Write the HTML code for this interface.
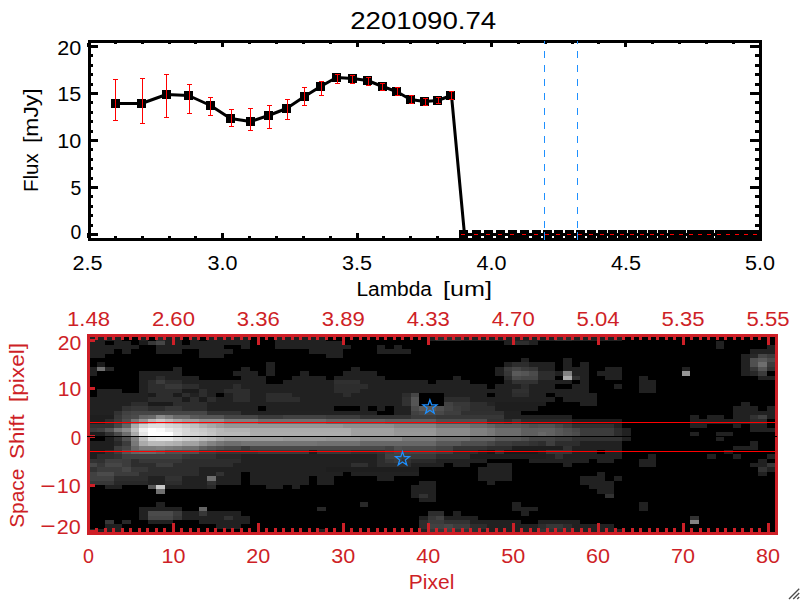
<!DOCTYPE html>
<html lang="en"><head><meta charset="utf-8"><title>2201090.74</title>
<style>html,body{margin:0;padding:0;background:#fff;overflow:hidden}svg{display:block}text{font-family:"Liberation Sans", Arial, sans-serif}</style>
</head><body>
<svg width="800" height="600" viewBox="0 0 800 600">
<rect width="800" height="600" fill="#fff"/>
<g shape-rendering="crispEdges">
<rect x="544" y="40" width="1" height="4" fill="#1e90ff"/>
<rect x="544" y="51" width="1" height="7" fill="#1e90ff"/>
<rect x="544" y="65" width="1" height="7" fill="#1e90ff"/>
<rect x="544" y="79" width="1" height="7" fill="#1e90ff"/>
<rect x="544" y="93" width="1" height="7" fill="#1e90ff"/>
<rect x="544" y="108" width="1" height="7" fill="#1e90ff"/>
<rect x="544" y="122" width="1" height="7" fill="#1e90ff"/>
<rect x="544" y="136" width="1" height="7" fill="#1e90ff"/>
<rect x="544" y="150" width="1" height="7" fill="#1e90ff"/>
<rect x="544" y="164" width="1" height="7" fill="#1e90ff"/>
<rect x="544" y="178" width="1" height="7" fill="#1e90ff"/>
<rect x="544" y="193" width="1" height="7" fill="#1e90ff"/>
<rect x="544" y="207" width="1" height="7" fill="#1e90ff"/>
<rect x="544" y="221" width="1" height="7" fill="#1e90ff"/>
<rect x="544" y="235" width="1" height="6" fill="#1e90ff"/>
<rect x="577" y="40" width="1" height="4" fill="#1e90ff"/>
<rect x="577" y="51" width="1" height="7" fill="#1e90ff"/>
<rect x="577" y="65" width="1" height="7" fill="#1e90ff"/>
<rect x="577" y="79" width="1" height="7" fill="#1e90ff"/>
<rect x="577" y="93" width="1" height="7" fill="#1e90ff"/>
<rect x="577" y="108" width="1" height="7" fill="#1e90ff"/>
<rect x="577" y="122" width="1" height="7" fill="#1e90ff"/>
<rect x="577" y="136" width="1" height="7" fill="#1e90ff"/>
<rect x="577" y="150" width="1" height="7" fill="#1e90ff"/>
<rect x="577" y="164" width="1" height="7" fill="#1e90ff"/>
<rect x="577" y="178" width="1" height="7" fill="#1e90ff"/>
<rect x="577" y="193" width="1" height="7" fill="#1e90ff"/>
<rect x="577" y="207" width="1" height="7" fill="#1e90ff"/>
<rect x="577" y="221" width="1" height="7" fill="#1e90ff"/>
<rect x="577" y="235" width="1" height="6" fill="#1e90ff"/>
<rect x="88" y="40" width="674" height="3" fill="#000"/>
<rect x="88" y="238" width="674" height="3" fill="#000"/>
<rect x="88" y="40" width="3" height="201" fill="#000"/>
<rect x="759" y="40" width="3" height="201" fill="#000"/>
<rect x="87" y="43" width="3" height="4" fill="#000"/>
<rect x="87" y="233" width="3" height="5" fill="#000"/>
<rect x="114" y="43" width="3" height="1" fill="#000"/>
<rect x="114" y="236" width="3" height="2" fill="#000"/>
<rect x="141" y="43" width="3" height="1" fill="#000"/>
<rect x="141" y="236" width="3" height="2" fill="#000"/>
<rect x="168" y="43" width="3" height="1" fill="#000"/>
<rect x="168" y="236" width="3" height="2" fill="#000"/>
<rect x="194" y="43" width="3" height="1" fill="#000"/>
<rect x="194" y="236" width="3" height="2" fill="#000"/>
<rect x="221" y="43" width="3" height="4" fill="#000"/>
<rect x="221" y="233" width="3" height="5" fill="#000"/>
<rect x="248" y="43" width="3" height="1" fill="#000"/>
<rect x="248" y="236" width="3" height="2" fill="#000"/>
<rect x="275" y="43" width="3" height="1" fill="#000"/>
<rect x="275" y="236" width="3" height="2" fill="#000"/>
<rect x="302" y="43" width="3" height="1" fill="#000"/>
<rect x="302" y="236" width="3" height="2" fill="#000"/>
<rect x="329" y="43" width="3" height="1" fill="#000"/>
<rect x="329" y="236" width="3" height="2" fill="#000"/>
<rect x="356" y="43" width="3" height="4" fill="#000"/>
<rect x="356" y="233" width="3" height="5" fill="#000"/>
<rect x="382" y="43" width="3" height="1" fill="#000"/>
<rect x="382" y="236" width="3" height="2" fill="#000"/>
<rect x="409" y="43" width="3" height="1" fill="#000"/>
<rect x="409" y="236" width="3" height="2" fill="#000"/>
<rect x="436" y="43" width="3" height="1" fill="#000"/>
<rect x="436" y="236" width="3" height="2" fill="#000"/>
<rect x="463" y="43" width="3" height="1" fill="#000"/>
<rect x="463" y="236" width="3" height="2" fill="#000"/>
<rect x="490" y="43" width="3" height="4" fill="#000"/>
<rect x="490" y="233" width="3" height="5" fill="#000"/>
<rect x="517" y="43" width="3" height="1" fill="#000"/>
<rect x="517" y="236" width="3" height="2" fill="#000"/>
<rect x="544" y="43" width="3" height="1" fill="#000"/>
<rect x="544" y="236" width="3" height="2" fill="#000"/>
<rect x="571" y="43" width="3" height="1" fill="#000"/>
<rect x="571" y="236" width="3" height="2" fill="#000"/>
<rect x="597" y="43" width="3" height="1" fill="#000"/>
<rect x="597" y="236" width="3" height="2" fill="#000"/>
<rect x="624" y="43" width="3" height="4" fill="#000"/>
<rect x="624" y="233" width="3" height="5" fill="#000"/>
<rect x="651" y="43" width="3" height="1" fill="#000"/>
<rect x="651" y="236" width="3" height="2" fill="#000"/>
<rect x="678" y="43" width="3" height="1" fill="#000"/>
<rect x="678" y="236" width="3" height="2" fill="#000"/>
<rect x="705" y="43" width="3" height="1" fill="#000"/>
<rect x="705" y="236" width="3" height="2" fill="#000"/>
<rect x="732" y="43" width="3" height="1" fill="#000"/>
<rect x="732" y="236" width="3" height="2" fill="#000"/>
<rect x="759" y="43" width="3" height="4" fill="#000"/>
<rect x="759" y="233" width="3" height="5" fill="#000"/>
<rect x="91" y="233" width="7" height="3" fill="#000"/>
<rect x="750" y="233" width="9" height="3" fill="#000"/>
<rect x="91" y="224" width="2" height="3" fill="#000"/>
<rect x="755" y="224" width="4" height="3" fill="#000"/>
<rect x="91" y="214" width="2" height="3" fill="#000"/>
<rect x="755" y="214" width="4" height="3" fill="#000"/>
<rect x="91" y="205" width="2" height="3" fill="#000"/>
<rect x="755" y="205" width="4" height="3" fill="#000"/>
<rect x="91" y="195" width="2" height="3" fill="#000"/>
<rect x="755" y="195" width="4" height="3" fill="#000"/>
<rect x="91" y="186" width="7" height="3" fill="#000"/>
<rect x="750" y="186" width="9" height="3" fill="#000"/>
<rect x="91" y="177" width="2" height="3" fill="#000"/>
<rect x="755" y="177" width="4" height="3" fill="#000"/>
<rect x="91" y="167" width="2" height="3" fill="#000"/>
<rect x="755" y="167" width="4" height="3" fill="#000"/>
<rect x="91" y="158" width="2" height="3" fill="#000"/>
<rect x="755" y="158" width="4" height="3" fill="#000"/>
<rect x="91" y="148" width="2" height="3" fill="#000"/>
<rect x="755" y="148" width="4" height="3" fill="#000"/>
<rect x="91" y="139" width="7" height="3" fill="#000"/>
<rect x="750" y="139" width="9" height="3" fill="#000"/>
<rect x="91" y="130" width="2" height="3" fill="#000"/>
<rect x="755" y="130" width="4" height="3" fill="#000"/>
<rect x="91" y="120" width="2" height="3" fill="#000"/>
<rect x="755" y="120" width="4" height="3" fill="#000"/>
<rect x="91" y="111" width="2" height="3" fill="#000"/>
<rect x="755" y="111" width="4" height="3" fill="#000"/>
<rect x="91" y="101" width="2" height="3" fill="#000"/>
<rect x="755" y="101" width="4" height="3" fill="#000"/>
<rect x="91" y="92" width="7" height="3" fill="#000"/>
<rect x="750" y="92" width="9" height="3" fill="#000"/>
<rect x="91" y="83" width="2" height="3" fill="#000"/>
<rect x="755" y="83" width="4" height="3" fill="#000"/>
<rect x="91" y="73" width="2" height="3" fill="#000"/>
<rect x="755" y="73" width="4" height="3" fill="#000"/>
<rect x="91" y="64" width="2" height="3" fill="#000"/>
<rect x="755" y="64" width="4" height="3" fill="#000"/>
<rect x="91" y="54" width="2" height="3" fill="#000"/>
<rect x="755" y="54" width="4" height="3" fill="#000"/>
<rect x="91" y="45" width="7" height="3" fill="#000"/>
<rect x="750" y="45" width="9" height="3" fill="#000"/>
</g>
<polyline fill="none" stroke="#000" stroke-width="3" stroke-linejoin="round" points="115.5,103.5 141.5,103.5 166.5,94.5 188.5,95.5 210.5,105.5 230.5,118.5 250.5,121.5 268.5,115.5 286.5,108.5 304.5,96.5 320.5,86.5 336.5,77.5 352.5,78.5 367.5,80.5 382.5,86.5 396.5,91.5 410.5,99.5 424.5,101.5 437.5,100.5 451.5,95.5 464.5,234.5 476.5,234.5 488.5,234.5 500.5,234.5 512.5,234.5 524.5,234.5 536.5,234.5 547.5,234.5 558.5,234.5 569.5,234.5 580.5,234.5 591.5,234.5 602.5,234.5 612.5,234.5 622.5,234.5 632.5,234.5 642.5,234.5 652.5,234.5 662.5,234.5 672.5,234.5 681.5,234.5 691.5,234.5 700.5,234.5 709.5,234.5 719.5,234.5 728.5,234.5 737.5,234.5 746.5,234.5 755.5,234.5"/>
<g shape-rendering="crispEdges">
<rect x="111" y="99" width="9" height="9" fill="#000"/>
<rect x="137" y="99" width="9" height="9" fill="#000"/>
<rect x="162" y="90" width="9" height="9" fill="#000"/>
<rect x="184" y="91" width="9" height="9" fill="#000"/>
<rect x="206" y="101" width="9" height="9" fill="#000"/>
<rect x="226" y="114" width="9" height="9" fill="#000"/>
<rect x="246" y="117" width="9" height="9" fill="#000"/>
<rect x="264" y="111" width="9" height="9" fill="#000"/>
<rect x="282" y="104" width="9" height="9" fill="#000"/>
<rect x="300" y="92" width="9" height="9" fill="#000"/>
<rect x="316" y="82" width="9" height="9" fill="#000"/>
<rect x="332" y="73" width="9" height="9" fill="#000"/>
<rect x="348" y="74" width="9" height="9" fill="#000"/>
<rect x="363" y="76" width="9" height="9" fill="#000"/>
<rect x="378" y="82" width="9" height="9" fill="#000"/>
<rect x="392" y="87" width="9" height="9" fill="#000"/>
<rect x="406" y="95" width="9" height="9" fill="#000"/>
<rect x="420" y="97" width="9" height="9" fill="#000"/>
<rect x="433" y="96" width="9" height="9" fill="#000"/>
<rect x="446" y="91" width="9" height="9" fill="#000"/>
<rect x="459" y="230" width="9" height="9" fill="#000"/>
<rect x="472" y="230" width="9" height="9" fill="#000"/>
<rect x="484" y="230" width="9" height="9" fill="#000"/>
<rect x="496" y="230" width="9" height="9" fill="#000"/>
<rect x="508" y="230" width="9" height="9" fill="#000"/>
<rect x="520" y="230" width="9" height="9" fill="#000"/>
<rect x="532" y="230" width="9" height="9" fill="#000"/>
<rect x="543" y="230" width="9" height="9" fill="#000"/>
<rect x="554" y="230" width="9" height="9" fill="#000"/>
<rect x="565" y="230" width="9" height="9" fill="#000"/>
<rect x="576" y="230" width="9" height="9" fill="#000"/>
<rect x="587" y="230" width="9" height="9" fill="#000"/>
<rect x="598" y="230" width="9" height="9" fill="#000"/>
<rect x="608" y="230" width="9" height="9" fill="#000"/>
<rect x="618" y="230" width="9" height="9" fill="#000"/>
<rect x="628" y="230" width="9" height="9" fill="#000"/>
<rect x="638" y="230" width="9" height="9" fill="#000"/>
<rect x="648" y="230" width="9" height="9" fill="#000"/>
<rect x="658" y="230" width="9" height="9" fill="#000"/>
<rect x="668" y="230" width="9" height="9" fill="#000"/>
<rect x="677" y="230" width="9" height="9" fill="#000"/>
<rect x="687" y="230" width="9" height="9" fill="#000"/>
<rect x="696" y="230" width="9" height="9" fill="#000"/>
<rect x="705" y="230" width="9" height="9" fill="#000"/>
<rect x="715" y="230" width="9" height="9" fill="#000"/>
<rect x="724" y="230" width="9" height="9" fill="#000"/>
<rect x="733" y="230" width="9" height="9" fill="#000"/>
<rect x="742" y="230" width="9" height="9" fill="#000"/>
<rect x="751" y="230" width="9" height="9" fill="#000"/>
<rect x="115" y="79" width="1" height="42" fill="#f00"/>
<rect x="113" y="79" width="5" height="1" fill="#f00"/>
<rect x="113" y="120" width="5" height="1" fill="#f00"/>
<rect x="142" y="78" width="1" height="46" fill="#f00"/>
<rect x="140" y="78" width="5" height="1" fill="#f00"/>
<rect x="140" y="123" width="5" height="1" fill="#f00"/>
<rect x="166" y="74" width="1" height="44" fill="#f00"/>
<rect x="164" y="74" width="5" height="1" fill="#f00"/>
<rect x="164" y="117" width="5" height="1" fill="#f00"/>
<rect x="189" y="84" width="1" height="30" fill="#f00"/>
<rect x="187" y="84" width="5" height="1" fill="#f00"/>
<rect x="187" y="113" width="5" height="1" fill="#f00"/>
<rect x="210" y="97" width="1" height="19" fill="#f00"/>
<rect x="208" y="97" width="5" height="1" fill="#f00"/>
<rect x="208" y="115" width="5" height="1" fill="#f00"/>
<rect x="231" y="109" width="1" height="18" fill="#f00"/>
<rect x="229" y="109" width="5" height="1" fill="#f00"/>
<rect x="229" y="126" width="5" height="1" fill="#f00"/>
<rect x="250" y="108" width="1" height="23" fill="#f00"/>
<rect x="248" y="108" width="5" height="1" fill="#f00"/>
<rect x="248" y="130" width="5" height="1" fill="#f00"/>
<rect x="269" y="105" width="1" height="24" fill="#f00"/>
<rect x="267" y="105" width="5" height="1" fill="#f00"/>
<rect x="267" y="128" width="5" height="1" fill="#f00"/>
<rect x="287" y="99" width="1" height="21" fill="#f00"/>
<rect x="285" y="99" width="5" height="1" fill="#f00"/>
<rect x="285" y="119" width="5" height="1" fill="#f00"/>
<rect x="304" y="87" width="1" height="19" fill="#f00"/>
<rect x="302" y="87" width="5" height="1" fill="#f00"/>
<rect x="302" y="105" width="5" height="1" fill="#f00"/>
<rect x="321" y="81" width="1" height="15" fill="#f00"/>
<rect x="319" y="81" width="5" height="1" fill="#f00"/>
<rect x="319" y="95" width="5" height="1" fill="#f00"/>
<rect x="337" y="74" width="1" height="10" fill="#f00"/>
<rect x="335" y="74" width="5" height="1" fill="#f00"/>
<rect x="335" y="83" width="5" height="1" fill="#f00"/>
<rect x="352" y="75" width="1" height="9" fill="#f00"/>
<rect x="350" y="75" width="5" height="1" fill="#f00"/>
<rect x="350" y="83" width="5" height="1" fill="#f00"/>
<rect x="368" y="77" width="1" height="9" fill="#f00"/>
<rect x="366" y="77" width="5" height="1" fill="#f00"/>
<rect x="366" y="85" width="5" height="1" fill="#f00"/>
<rect x="382" y="83" width="1" height="8" fill="#f00"/>
<rect x="380" y="83" width="5" height="1" fill="#f00"/>
<rect x="380" y="90" width="5" height="1" fill="#f00"/>
<rect x="397" y="87" width="1" height="9" fill="#f00"/>
<rect x="395" y="87" width="5" height="1" fill="#f00"/>
<rect x="395" y="95" width="5" height="1" fill="#f00"/>
<rect x="411" y="95" width="1" height="9" fill="#f00"/>
<rect x="409" y="95" width="5" height="1" fill="#f00"/>
<rect x="409" y="103" width="5" height="1" fill="#f00"/>
<rect x="425" y="98" width="1" height="8" fill="#f00"/>
<rect x="423" y="98" width="5" height="1" fill="#f00"/>
<rect x="423" y="105" width="5" height="1" fill="#f00"/>
<rect x="438" y="97" width="1" height="7" fill="#f00"/>
<rect x="436" y="97" width="5" height="1" fill="#f00"/>
<rect x="436" y="103" width="5" height="1" fill="#f00"/>
<rect x="451" y="91" width="1" height="9" fill="#f00"/>
<rect x="449" y="91" width="5" height="1" fill="#f00"/>
<rect x="449" y="99" width="5" height="1" fill="#f00"/>
<rect x="461" y="234" width="4" height="1" fill="#f00"/>
<rect x="474" y="234" width="4" height="1" fill="#f00"/>
<rect x="486" y="234" width="4" height="1" fill="#f00"/>
<rect x="498" y="234" width="4" height="1" fill="#f00"/>
<rect x="510" y="234" width="4" height="1" fill="#f00"/>
<rect x="522" y="234" width="4" height="1" fill="#f00"/>
<rect x="534" y="234" width="4" height="1" fill="#f00"/>
<rect x="545" y="234" width="4" height="1" fill="#f00"/>
<rect x="556" y="234" width="4" height="1" fill="#f00"/>
<rect x="567" y="234" width="4" height="1" fill="#f00"/>
<rect x="578" y="234" width="4" height="1" fill="#f00"/>
<rect x="589" y="234" width="4" height="1" fill="#f00"/>
<rect x="600" y="234" width="4" height="1" fill="#f00"/>
<rect x="610" y="234" width="4" height="1" fill="#f00"/>
<rect x="620" y="234" width="4" height="1" fill="#f00"/>
<rect x="630" y="234" width="4" height="1" fill="#f00"/>
<rect x="640" y="234" width="4" height="1" fill="#f00"/>
<rect x="650" y="234" width="4" height="1" fill="#f00"/>
<rect x="660" y="234" width="4" height="1" fill="#f00"/>
<rect x="670" y="234" width="4" height="1" fill="#f00"/>
<rect x="679" y="234" width="4" height="1" fill="#f00"/>
<rect x="689" y="234" width="4" height="1" fill="#f00"/>
<rect x="698" y="234" width="4" height="1" fill="#f00"/>
<rect x="707" y="234" width="4" height="1" fill="#f00"/>
<rect x="717" y="234" width="4" height="1" fill="#f00"/>
<rect x="726" y="234" width="4" height="1" fill="#f00"/>
<rect x="735" y="234" width="4" height="1" fill="#f00"/>
<rect x="744" y="234" width="4" height="1" fill="#f00"/>
<rect x="753" y="234" width="4" height="1" fill="#f00"/>
<rect x="544" y="232" width="1" height="8" fill="#1e90ff"/>
<rect x="544" y="41" width="1" height="3" fill="#1e90ff"/>
<rect x="577" y="232" width="1" height="8" fill="#1e90ff"/>
<rect x="577" y="41" width="1" height="3" fill="#1e90ff"/>
</g>
<text x="423.2" y="29.2" font-size="23.6" fill="#000" text-anchor="middle" textLength="146" lengthAdjust="spacingAndGlyphs">2201090.74</text>
<text x="87.5" y="269.5" font-size="19.5" fill="#000" text-anchor="middle" textLength="30" lengthAdjust="spacingAndGlyphs">2.5</text>
<text x="222.5" y="269.5" font-size="19.5" fill="#000" text-anchor="middle" textLength="30" lengthAdjust="spacingAndGlyphs">3.0</text>
<text x="357" y="269.5" font-size="19.5" fill="#000" text-anchor="middle" textLength="30" lengthAdjust="spacingAndGlyphs">3.5</text>
<text x="491.5" y="269.5" font-size="19.5" fill="#000" text-anchor="middle" textLength="30" lengthAdjust="spacingAndGlyphs">4.0</text>
<text x="626" y="269.5" font-size="19.5" fill="#000" text-anchor="middle" textLength="30" lengthAdjust="spacingAndGlyphs">4.5</text>
<text x="760" y="269.5" font-size="19.5" fill="#000" text-anchor="middle" textLength="30" lengthAdjust="spacingAndGlyphs">5.0</text>
<text x="81.3" y="55.3" font-size="19.5" fill="#000" text-anchor="end" textLength="24" lengthAdjust="spacingAndGlyphs">20</text>
<text x="81.3" y="100.9" font-size="19.5" fill="#000" text-anchor="end" textLength="24" lengthAdjust="spacingAndGlyphs">15</text>
<text x="81.3" y="148.1" font-size="19.5" fill="#000" text-anchor="end" textLength="24" lengthAdjust="spacingAndGlyphs">10</text>
<text x="81.3" y="195.2" font-size="19.5" fill="#000" text-anchor="end" textLength="10.8" lengthAdjust="spacingAndGlyphs">5</text>
<text x="81.3" y="239.2" font-size="19.5" fill="#000" text-anchor="end" textLength="10.8" lengthAdjust="spacingAndGlyphs">0</text>
<text transform="translate(357.4 295.5)" font-size="19.5" fill="#000"><tspan x="-1" textLength="75.6" lengthAdjust="spacingAndGlyphs">Lambda</tspan> <tspan x="85.6" textLength="48.9" lengthAdjust="spacingAndGlyphs">[um]</tspan></text>
<text transform="translate(38 191) rotate(-90)" font-size="19.5" fill="#000"><tspan x="-1" textLength="38.6" lengthAdjust="spacingAndGlyphs">Flux</tspan> <tspan x="48" textLength="54.6" lengthAdjust="spacingAndGlyphs">[mJy]</tspan></text>
<g shape-rendering="crispEdges">
<rect x="88" y="335" width="688" height="198" fill="#000"/>
<rect x="88" y="336" width="34" height="5" fill="#212121"/>
<rect x="139" y="336" width="9" height="5" fill="#212121"/>
<rect x="156" y="336" width="9" height="5" fill="#2d2d2d"/>
<rect x="165" y="336" width="17" height="5" fill="#212121"/>
<rect x="190" y="336" width="9" height="5" fill="#212121"/>
<rect x="207" y="336" width="43" height="5" fill="#212121"/>
<rect x="275" y="336" width="51" height="5" fill="#212121"/>
<rect x="428" y="336" width="8" height="5" fill="#212121"/>
<rect x="436" y="336" width="25" height="5" fill="#2d2d2d"/>
<rect x="461" y="336" width="94" height="5" fill="#212121"/>
<rect x="555" y="336" width="17" height="5" fill="#2d2d2d"/>
<rect x="572" y="336" width="50" height="5" fill="#212121"/>
<rect x="88" y="341" width="17" height="4" fill="#212121"/>
<rect x="114" y="341" width="17" height="4" fill="#212121"/>
<rect x="139" y="341" width="9" height="4" fill="#1b1b1b"/>
<rect x="148" y="341" width="8" height="4" fill="#373737"/>
<rect x="156" y="341" width="9" height="4" fill="#464646"/>
<rect x="165" y="341" width="17" height="4" fill="#212121"/>
<rect x="190" y="341" width="60" height="4" fill="#212121"/>
<rect x="275" y="341" width="68" height="4" fill="#212121"/>
<rect x="504" y="341" width="8" height="4" fill="#212121"/>
<rect x="512" y="341" width="17" height="4" fill="#2d2d2d"/>
<rect x="529" y="341" width="9" height="4" fill="#212121"/>
<rect x="716" y="341" width="8" height="4" fill="#212121"/>
<rect x="88" y="345" width="51" height="4" fill="#212121"/>
<rect x="156" y="345" width="68" height="4" fill="#212121"/>
<rect x="241" y="345" width="9" height="4" fill="#212121"/>
<rect x="275" y="345" width="76" height="4" fill="#212121"/>
<rect x="377" y="345" width="8" height="4" fill="#212121"/>
<rect x="394" y="345" width="8" height="4" fill="#212121"/>
<rect x="716" y="345" width="8" height="4" fill="#212121"/>
<rect x="767" y="345" width="8" height="4" fill="#212121"/>
<rect x="88" y="349" width="26" height="5" fill="#212121"/>
<rect x="122" y="349" width="9" height="5" fill="#212121"/>
<rect x="156" y="349" width="26" height="5" fill="#212121"/>
<rect x="199" y="349" width="34" height="5" fill="#212121"/>
<rect x="309" y="349" width="34" height="5" fill="#212121"/>
<rect x="377" y="349" width="34" height="5" fill="#212121"/>
<rect x="750" y="349" width="25" height="5" fill="#212121"/>
<rect x="88" y="354" width="17" height="4" fill="#212121"/>
<rect x="199" y="354" width="25" height="4" fill="#212121"/>
<rect x="326" y="354" width="17" height="4" fill="#212121"/>
<rect x="741" y="354" width="9" height="4" fill="#212121"/>
<rect x="750" y="354" width="8" height="4" fill="#282828"/>
<rect x="758" y="354" width="9" height="4" fill="#464646"/>
<rect x="767" y="354" width="8" height="4" fill="#3c3c3c"/>
<rect x="521" y="358" width="8" height="4" fill="#212121"/>
<rect x="563" y="358" width="9" height="4" fill="#212121"/>
<rect x="741" y="358" width="9" height="4" fill="#212121"/>
<rect x="750" y="358" width="8" height="4" fill="#505050"/>
<rect x="758" y="358" width="9" height="4" fill="#5a5a5a"/>
<rect x="767" y="358" width="8" height="4" fill="#4b4b4b"/>
<rect x="97" y="362" width="8" height="5" fill="#1b1b1b"/>
<rect x="266" y="362" width="9" height="5" fill="#212121"/>
<rect x="504" y="362" width="8" height="5" fill="#212121"/>
<rect x="512" y="362" width="17" height="5" fill="#2d2d2d"/>
<rect x="529" y="362" width="26" height="5" fill="#212121"/>
<rect x="563" y="362" width="9" height="5" fill="#212121"/>
<rect x="580" y="362" width="9" height="5" fill="#212121"/>
<rect x="741" y="362" width="9" height="5" fill="#212121"/>
<rect x="750" y="362" width="8" height="5" fill="#505050"/>
<rect x="758" y="362" width="9" height="5" fill="#6e6e6e"/>
<rect x="767" y="362" width="8" height="5" fill="#3c3c3c"/>
<rect x="88" y="367" width="9" height="4" fill="#212121"/>
<rect x="97" y="367" width="8" height="4" fill="#6e6e6e"/>
<rect x="105" y="367" width="9" height="4" fill="#262626"/>
<rect x="173" y="367" width="9" height="4" fill="#212121"/>
<rect x="241" y="367" width="9" height="4" fill="#212121"/>
<rect x="266" y="367" width="9" height="4" fill="#212121"/>
<rect x="351" y="367" width="9" height="4" fill="#212121"/>
<rect x="495" y="367" width="9" height="4" fill="#212121"/>
<rect x="504" y="367" width="8" height="4" fill="#3c3c3c"/>
<rect x="512" y="367" width="9" height="4" fill="#464646"/>
<rect x="521" y="367" width="8" height="4" fill="#3c3c3c"/>
<rect x="529" y="367" width="9" height="4" fill="#373737"/>
<rect x="538" y="367" width="17" height="4" fill="#212121"/>
<rect x="563" y="367" width="26" height="4" fill="#212121"/>
<rect x="605" y="367" width="17" height="4" fill="#212121"/>
<rect x="682" y="367" width="8" height="4" fill="#212121"/>
<rect x="741" y="367" width="9" height="4" fill="#212121"/>
<rect x="750" y="367" width="8" height="4" fill="#373737"/>
<rect x="758" y="367" width="9" height="4" fill="#555555"/>
<rect x="767" y="367" width="8" height="4" fill="#323232"/>
<rect x="88" y="371" width="9" height="5" fill="#212121"/>
<rect x="139" y="371" width="43" height="5" fill="#212121"/>
<rect x="233" y="371" width="25" height="5" fill="#212121"/>
<rect x="266" y="371" width="9" height="5" fill="#212121"/>
<rect x="300" y="371" width="9" height="5" fill="#212121"/>
<rect x="343" y="371" width="34" height="5" fill="#212121"/>
<rect x="495" y="371" width="9" height="5" fill="#212121"/>
<rect x="504" y="371" width="8" height="5" fill="#373737"/>
<rect x="512" y="371" width="9" height="5" fill="#5a5a5a"/>
<rect x="521" y="371" width="8" height="5" fill="#555555"/>
<rect x="529" y="371" width="9" height="5" fill="#4b4b4b"/>
<rect x="538" y="371" width="17" height="5" fill="#2d2d2d"/>
<rect x="555" y="371" width="8" height="5" fill="#212121"/>
<rect x="563" y="371" width="9" height="5" fill="#828282"/>
<rect x="572" y="371" width="17" height="5" fill="#212121"/>
<rect x="597" y="371" width="25" height="5" fill="#212121"/>
<rect x="682" y="371" width="8" height="5" fill="#969696"/>
<rect x="741" y="371" width="9" height="5" fill="#212121"/>
<rect x="750" y="371" width="8" height="5" fill="#282828"/>
<rect x="758" y="371" width="9" height="5" fill="#3c3c3c"/>
<rect x="139" y="376" width="17" height="4" fill="#212121"/>
<rect x="156" y="376" width="9" height="4" fill="#2d2d2d"/>
<rect x="165" y="376" width="34" height="4" fill="#212121"/>
<rect x="241" y="376" width="25" height="4" fill="#212121"/>
<rect x="292" y="376" width="34" height="4" fill="#212121"/>
<rect x="334" y="376" width="51" height="4" fill="#212121"/>
<rect x="453" y="376" width="8" height="4" fill="#212121"/>
<rect x="504" y="376" width="8" height="4" fill="#2d2d2d"/>
<rect x="512" y="376" width="9" height="4" fill="#4b4b4b"/>
<rect x="521" y="376" width="17" height="4" fill="#464646"/>
<rect x="538" y="376" width="17" height="4" fill="#2d2d2d"/>
<rect x="563" y="376" width="9" height="4" fill="#aaaaaa"/>
<rect x="572" y="376" width="8" height="4" fill="#323232"/>
<rect x="580" y="376" width="9" height="4" fill="#212121"/>
<rect x="605" y="376" width="17" height="4" fill="#212121"/>
<rect x="639" y="376" width="9" height="4" fill="#212121"/>
<rect x="758" y="376" width="17" height="4" fill="#212121"/>
<rect x="139" y="380" width="9" height="4" fill="#212121"/>
<rect x="148" y="380" width="8" height="4" fill="#2d2d2d"/>
<rect x="156" y="380" width="9" height="4" fill="#3c3c3c"/>
<rect x="165" y="380" width="17" height="4" fill="#2d2d2d"/>
<rect x="182" y="380" width="84" height="4" fill="#212121"/>
<rect x="283" y="380" width="51" height="4" fill="#212121"/>
<rect x="334" y="380" width="26" height="4" fill="#303030"/>
<rect x="360" y="380" width="68" height="4" fill="#212121"/>
<rect x="436" y="380" width="34" height="4" fill="#212121"/>
<rect x="504" y="380" width="8" height="4" fill="#212121"/>
<rect x="512" y="380" width="26" height="4" fill="#323232"/>
<rect x="538" y="380" width="34" height="4" fill="#212121"/>
<rect x="580" y="380" width="9" height="4" fill="#212121"/>
<rect x="639" y="380" width="17" height="4" fill="#212121"/>
<rect x="139" y="384" width="9" height="5" fill="#212121"/>
<rect x="148" y="384" width="17" height="5" fill="#2d2d2d"/>
<rect x="165" y="384" width="17" height="5" fill="#373737"/>
<rect x="182" y="384" width="17" height="5" fill="#2d2d2d"/>
<rect x="199" y="384" width="34" height="5" fill="#212121"/>
<rect x="233" y="384" width="8" height="5" fill="#2d2d2d"/>
<rect x="241" y="384" width="93" height="5" fill="#212121"/>
<rect x="334" y="384" width="34" height="5" fill="#2d2d2d"/>
<rect x="368" y="384" width="119" height="5" fill="#212121"/>
<rect x="495" y="384" width="26" height="5" fill="#212121"/>
<rect x="521" y="384" width="8" height="5" fill="#2d2d2d"/>
<rect x="529" y="384" width="26" height="5" fill="#212121"/>
<rect x="572" y="384" width="17" height="5" fill="#212121"/>
<rect x="614" y="384" width="8" height="5" fill="#212121"/>
<rect x="639" y="384" width="17" height="5" fill="#212121"/>
<rect x="97" y="389" width="25" height="4" fill="#212121"/>
<rect x="139" y="389" width="9" height="4" fill="#212121"/>
<rect x="148" y="389" width="34" height="4" fill="#2d2d2d"/>
<rect x="182" y="389" width="17" height="4" fill="#1b1b1b"/>
<rect x="199" y="389" width="8" height="4" fill="#2d2d2d"/>
<rect x="207" y="389" width="17" height="4" fill="#212121"/>
<rect x="224" y="389" width="26" height="4" fill="#2d2d2d"/>
<rect x="250" y="389" width="84" height="4" fill="#212121"/>
<rect x="334" y="389" width="26" height="4" fill="#2d2d2d"/>
<rect x="360" y="389" width="152" height="4" fill="#212121"/>
<rect x="512" y="389" width="17" height="4" fill="#303030"/>
<rect x="529" y="389" width="60" height="4" fill="#212121"/>
<rect x="639" y="389" width="17" height="4" fill="#212121"/>
<rect x="97" y="393" width="51" height="4" fill="#212121"/>
<rect x="148" y="393" width="8" height="4" fill="#1b1b1b"/>
<rect x="156" y="393" width="17" height="4" fill="#2d2d2d"/>
<rect x="173" y="393" width="9" height="4" fill="#1b1b1b"/>
<rect x="182" y="393" width="8" height="4" fill="#2d2d2d"/>
<rect x="190" y="393" width="9" height="4" fill="#212121"/>
<rect x="199" y="393" width="8" height="4" fill="#2d2d2d"/>
<rect x="207" y="393" width="9" height="4" fill="#212121"/>
<rect x="224" y="393" width="9" height="4" fill="#212121"/>
<rect x="233" y="393" width="17" height="4" fill="#2d2d2d"/>
<rect x="250" y="393" width="16" height="4" fill="#212121"/>
<rect x="266" y="393" width="26" height="4" fill="#2d2d2d"/>
<rect x="292" y="393" width="51" height="4" fill="#212121"/>
<rect x="343" y="393" width="8" height="4" fill="#2d2d2d"/>
<rect x="351" y="393" width="51" height="4" fill="#212121"/>
<rect x="402" y="393" width="9" height="4" fill="#2d2d2d"/>
<rect x="411" y="393" width="8" height="4" fill="#464646"/>
<rect x="444" y="393" width="43" height="4" fill="#212121"/>
<rect x="495" y="393" width="17" height="4" fill="#212121"/>
<rect x="512" y="393" width="17" height="4" fill="#2d2d2d"/>
<rect x="529" y="393" width="17" height="4" fill="#212121"/>
<rect x="555" y="393" width="42" height="4" fill="#212121"/>
<rect x="88" y="397" width="60" height="5" fill="#212121"/>
<rect x="148" y="397" width="34" height="5" fill="#2d2d2d"/>
<rect x="182" y="397" width="8" height="5" fill="#1b1b1b"/>
<rect x="190" y="397" width="9" height="5" fill="#2d2d2d"/>
<rect x="199" y="397" width="8" height="5" fill="#1b1b1b"/>
<rect x="207" y="397" width="9" height="5" fill="#2d2d2d"/>
<rect x="216" y="397" width="17" height="5" fill="#212121"/>
<rect x="233" y="397" width="17" height="5" fill="#2d2d2d"/>
<rect x="250" y="397" width="16" height="5" fill="#212121"/>
<rect x="266" y="397" width="34" height="5" fill="#2d2d2d"/>
<rect x="300" y="397" width="102" height="5" fill="#212121"/>
<rect x="402" y="397" width="9" height="5" fill="#323232"/>
<rect x="411" y="397" width="8" height="5" fill="#555555"/>
<rect x="444" y="397" width="26" height="5" fill="#2d2d2d"/>
<rect x="470" y="397" width="85" height="5" fill="#212121"/>
<rect x="563" y="397" width="34" height="5" fill="#212121"/>
<rect x="88" y="402" width="43" height="4" fill="#212121"/>
<rect x="131" y="402" width="17" height="4" fill="#2d2d2d"/>
<rect x="148" y="402" width="25" height="4" fill="#1b1b1b"/>
<rect x="173" y="402" width="34" height="4" fill="#2d2d2d"/>
<rect x="207" y="402" width="195" height="4" fill="#212121"/>
<rect x="402" y="402" width="9" height="4" fill="#323232"/>
<rect x="411" y="402" width="8" height="4" fill="#555555"/>
<rect x="444" y="402" width="9" height="4" fill="#424242"/>
<rect x="453" y="402" width="17" height="4" fill="#383838"/>
<rect x="470" y="402" width="17" height="4" fill="#2e2e2e"/>
<rect x="487" y="402" width="8" height="4" fill="#242424"/>
<rect x="495" y="402" width="51" height="4" fill="#1e1e1e"/>
<rect x="580" y="402" width="17" height="4" fill="#212121"/>
<rect x="741" y="402" width="9" height="4" fill="#212121"/>
<rect x="88" y="406" width="34" height="5" fill="#212121"/>
<rect x="122" y="406" width="9" height="5" fill="#323232"/>
<rect x="131" y="406" width="17" height="5" fill="#373737"/>
<rect x="148" y="406" width="17" height="5" fill="#2d2d2d"/>
<rect x="165" y="406" width="17" height="5" fill="#373737"/>
<rect x="182" y="406" width="25" height="5" fill="#2d2d2d"/>
<rect x="207" y="406" width="51" height="5" fill="#212121"/>
<rect x="266" y="406" width="68" height="5" fill="#212121"/>
<rect x="360" y="406" width="8" height="5" fill="#212121"/>
<rect x="377" y="406" width="8" height="5" fill="#212121"/>
<rect x="394" y="406" width="17" height="5" fill="#212121"/>
<rect x="411" y="406" width="8" height="5" fill="#4b4b4b"/>
<rect x="419" y="406" width="17" height="5" fill="#5a5a5a"/>
<rect x="436" y="406" width="8" height="5" fill="#505050"/>
<rect x="444" y="406" width="9" height="5" fill="#444444"/>
<rect x="453" y="406" width="8" height="5" fill="#3c3c3c"/>
<rect x="461" y="406" width="9" height="5" fill="#373737"/>
<rect x="470" y="406" width="25" height="5" fill="#2e2e2e"/>
<rect x="495" y="406" width="43" height="5" fill="#1e1e1e"/>
<rect x="733" y="406" width="25" height="5" fill="#212121"/>
<rect x="767" y="406" width="8" height="5" fill="#212121"/>
<rect x="88" y="411" width="26" height="4" fill="#212121"/>
<rect x="114" y="411" width="8" height="4" fill="#323232"/>
<rect x="122" y="411" width="9" height="4" fill="#414141"/>
<rect x="131" y="411" width="76" height="4" fill="#464646"/>
<rect x="207" y="411" width="34" height="4" fill="#323232"/>
<rect x="241" y="411" width="136" height="4" fill="#222222"/>
<rect x="394" y="411" width="17" height="4" fill="#212121"/>
<rect x="411" y="411" width="8" height="4" fill="#414141"/>
<rect x="419" y="411" width="25" height="4" fill="#484848"/>
<rect x="444" y="411" width="17" height="4" fill="#3e3e3e"/>
<rect x="461" y="411" width="43" height="4" fill="#303030"/>
<rect x="504" y="411" width="17" height="4" fill="#212121"/>
<rect x="733" y="411" width="42" height="4" fill="#212121"/>
<rect x="88" y="415" width="26" height="4" fill="#1e1e1e"/>
<rect x="114" y="415" width="8" height="4" fill="#373737"/>
<rect x="122" y="415" width="9" height="4" fill="#464646"/>
<rect x="131" y="415" width="8" height="4" fill="#4b4b4b"/>
<rect x="139" y="415" width="9" height="4" fill="#646464"/>
<rect x="148" y="415" width="8" height="4" fill="#696969"/>
<rect x="156" y="415" width="9" height="4" fill="#8c8c8c"/>
<rect x="165" y="415" width="8" height="4" fill="#7d7d7d"/>
<rect x="173" y="415" width="17" height="4" fill="#696969"/>
<rect x="190" y="415" width="9" height="4" fill="#5a5a5a"/>
<rect x="199" y="415" width="25" height="4" fill="#555555"/>
<rect x="224" y="415" width="34" height="4" fill="#464646"/>
<rect x="258" y="415" width="25" height="4" fill="#3a3a3a"/>
<rect x="283" y="415" width="43" height="4" fill="#414141"/>
<rect x="326" y="415" width="34" height="4" fill="#3c3c3c"/>
<rect x="360" y="415" width="51" height="4" fill="#323232"/>
<rect x="411" y="415" width="25" height="4" fill="#3c3c3c"/>
<rect x="436" y="415" width="68" height="4" fill="#373737"/>
<rect x="504" y="415" width="68" height="4" fill="#212121"/>
<rect x="690" y="415" width="9" height="4" fill="#212121"/>
<rect x="707" y="415" width="17" height="4" fill="#212121"/>
<rect x="733" y="415" width="17" height="4" fill="#212121"/>
<rect x="750" y="415" width="8" height="4" fill="#323232"/>
<rect x="758" y="415" width="9" height="4" fill="#414141"/>
<rect x="767" y="415" width="8" height="4" fill="#212121"/>
<rect x="88" y="419" width="17" height="5" fill="#1e1e1e"/>
<rect x="105" y="419" width="9" height="5" fill="#2d2d2d"/>
<rect x="114" y="419" width="8" height="5" fill="#3c3c3c"/>
<rect x="122" y="419" width="9" height="5" fill="#505050"/>
<rect x="131" y="419" width="8" height="5" fill="#787878"/>
<rect x="139" y="419" width="9" height="5" fill="#969696"/>
<rect x="148" y="419" width="8" height="5" fill="#b9b9b9"/>
<rect x="156" y="419" width="9" height="5" fill="#c8c8c8"/>
<rect x="165" y="419" width="8" height="5" fill="#b9b9b9"/>
<rect x="173" y="419" width="9" height="5" fill="#aaaaaa"/>
<rect x="182" y="419" width="17" height="5" fill="#9e9e9e"/>
<rect x="199" y="419" width="25" height="5" fill="#919191"/>
<rect x="224" y="419" width="34" height="5" fill="#7d7d7d"/>
<rect x="258" y="419" width="68" height="5" fill="#6e6e6e"/>
<rect x="326" y="419" width="59" height="5" fill="#646464"/>
<rect x="385" y="419" width="51" height="5" fill="#5e5e5e"/>
<rect x="436" y="419" width="51" height="5" fill="#4e4e4e"/>
<rect x="487" y="419" width="17" height="5" fill="#343434"/>
<rect x="504" y="419" width="8" height="5" fill="#2d2d2d"/>
<rect x="512" y="419" width="9" height="5" fill="#3c3c3c"/>
<rect x="521" y="419" width="51" height="5" fill="#2a2a2a"/>
<rect x="572" y="419" width="50" height="5" fill="#1c1c1c"/>
<rect x="690" y="419" width="60" height="5" fill="#212121"/>
<rect x="750" y="419" width="17" height="5" fill="#2d2d2d"/>
<rect x="88" y="424" width="26" height="4" fill="#323232"/>
<rect x="114" y="424" width="8" height="4" fill="#464646"/>
<rect x="122" y="424" width="9" height="4" fill="#646464"/>
<rect x="131" y="424" width="8" height="4" fill="#aaaaaa"/>
<rect x="139" y="424" width="9" height="4" fill="#d2d2d2"/>
<rect x="148" y="424" width="17" height="4" fill="#e1e1e1"/>
<rect x="165" y="424" width="8" height="4" fill="#d7d7d7"/>
<rect x="173" y="424" width="9" height="4" fill="#d2d2d2"/>
<rect x="182" y="424" width="8" height="4" fill="#c8c8c8"/>
<rect x="190" y="424" width="9" height="4" fill="#c0c0c0"/>
<rect x="199" y="424" width="8" height="4" fill="#b2b2b2"/>
<rect x="207" y="424" width="9" height="4" fill="#a8a8a8"/>
<rect x="216" y="424" width="8" height="4" fill="#9e9e9e"/>
<rect x="224" y="424" width="119" height="4" fill="#969696"/>
<rect x="343" y="424" width="51" height="4" fill="#8e8e8e"/>
<rect x="394" y="424" width="42" height="4" fill="#848484"/>
<rect x="436" y="424" width="34" height="4" fill="#767676"/>
<rect x="470" y="424" width="17" height="4" fill="#6c6c6c"/>
<rect x="487" y="424" width="8" height="4" fill="#646464"/>
<rect x="495" y="424" width="26" height="4" fill="#5a5a5a"/>
<rect x="521" y="424" width="8" height="4" fill="#555555"/>
<rect x="529" y="424" width="9" height="4" fill="#4e4e4e"/>
<rect x="538" y="424" width="17" height="4" fill="#525252"/>
<rect x="555" y="424" width="8" height="4" fill="#484848"/>
<rect x="563" y="424" width="9" height="4" fill="#3e3e3e"/>
<rect x="572" y="424" width="42" height="4" fill="#303030"/>
<rect x="614" y="424" width="8" height="4" fill="#212121"/>
<rect x="690" y="424" width="17" height="4" fill="#212121"/>
<rect x="733" y="424" width="8" height="4" fill="#212121"/>
<rect x="750" y="424" width="17" height="4" fill="#212121"/>
<rect x="88" y="428" width="9" height="4" fill="#3c3c3c"/>
<rect x="97" y="428" width="8" height="4" fill="#414141"/>
<rect x="105" y="428" width="9" height="4" fill="#555555"/>
<rect x="114" y="428" width="8" height="4" fill="#787878"/>
<rect x="122" y="428" width="9" height="4" fill="#8c8c8c"/>
<rect x="131" y="428" width="8" height="4" fill="#bebebe"/>
<rect x="139" y="428" width="9" height="4" fill="#f0f0f0"/>
<rect x="148" y="428" width="8" height="4" fill="#ffffff"/>
<rect x="156" y="428" width="9" height="4" fill="#fafafa"/>
<rect x="165" y="428" width="8" height="4" fill="#ebebeb"/>
<rect x="173" y="428" width="9" height="4" fill="#e1e1e1"/>
<rect x="182" y="428" width="8" height="4" fill="#d7d7d7"/>
<rect x="190" y="428" width="9" height="4" fill="#cdcdcd"/>
<rect x="199" y="428" width="8" height="4" fill="#c8c8c8"/>
<rect x="207" y="428" width="9" height="4" fill="#c0c0c0"/>
<rect x="216" y="428" width="8" height="4" fill="#b8b8b8"/>
<rect x="224" y="428" width="26" height="4" fill="#b2b2b2"/>
<rect x="250" y="428" width="101" height="4" fill="#ababab"/>
<rect x="351" y="428" width="43" height="4" fill="#a0a0a0"/>
<rect x="394" y="428" width="42" height="4" fill="#969696"/>
<rect x="436" y="428" width="34" height="4" fill="#8a8a8a"/>
<rect x="470" y="428" width="17" height="4" fill="#808080"/>
<rect x="487" y="428" width="8" height="4" fill="#787878"/>
<rect x="495" y="428" width="26" height="4" fill="#6c6c6c"/>
<rect x="521" y="428" width="17" height="4" fill="#5f5f5f"/>
<rect x="538" y="428" width="17" height="4" fill="#616161"/>
<rect x="555" y="428" width="8" height="4" fill="#585858"/>
<rect x="563" y="428" width="9" height="4" fill="#505050"/>
<rect x="572" y="428" width="8" height="4" fill="#484848"/>
<rect x="580" y="428" width="34" height="4" fill="#3c3c3c"/>
<rect x="614" y="428" width="8" height="4" fill="#2d2d2d"/>
<rect x="622" y="428" width="9" height="4" fill="#212121"/>
<rect x="750" y="428" width="25" height="4" fill="#212121"/>
<rect x="88" y="432" width="17" height="5" fill="#1e1e1e"/>
<rect x="105" y="432" width="9" height="5" fill="#323232"/>
<rect x="114" y="432" width="8" height="5" fill="#4b4b4b"/>
<rect x="122" y="432" width="9" height="5" fill="#6e6e6e"/>
<rect x="131" y="432" width="8" height="5" fill="#aaaaaa"/>
<rect x="139" y="432" width="9" height="5" fill="#e6e6e6"/>
<rect x="148" y="432" width="25" height="5" fill="#ffffff"/>
<rect x="173" y="432" width="9" height="5" fill="#e6e6e6"/>
<rect x="182" y="432" width="8" height="5" fill="#d7d7d7"/>
<rect x="190" y="432" width="9" height="5" fill="#d2d2d2"/>
<rect x="199" y="432" width="8" height="5" fill="#cdcdcd"/>
<rect x="207" y="432" width="9" height="5" fill="#c4c4c4"/>
<rect x="216" y="432" width="34" height="5" fill="#b8b8b8"/>
<rect x="250" y="432" width="101" height="5" fill="#adadad"/>
<rect x="351" y="432" width="43" height="5" fill="#a0a0a0"/>
<rect x="394" y="432" width="42" height="5" fill="#989898"/>
<rect x="436" y="432" width="34" height="5" fill="#8a8a8a"/>
<rect x="470" y="432" width="17" height="5" fill="#808080"/>
<rect x="487" y="432" width="8" height="5" fill="#787878"/>
<rect x="495" y="432" width="26" height="5" fill="#6c6c6c"/>
<rect x="521" y="432" width="17" height="5" fill="#5f5f5f"/>
<rect x="538" y="432" width="8" height="5" fill="#686868"/>
<rect x="546" y="432" width="9" height="5" fill="#616161"/>
<rect x="555" y="432" width="8" height="5" fill="#585858"/>
<rect x="563" y="432" width="9" height="5" fill="#525252"/>
<rect x="572" y="432" width="8" height="5" fill="#4c4c4c"/>
<rect x="580" y="432" width="34" height="5" fill="#3c3c3c"/>
<rect x="614" y="432" width="8" height="5" fill="#2d2d2d"/>
<rect x="622" y="432" width="9" height="5" fill="#212121"/>
<rect x="690" y="432" width="9" height="5" fill="#212121"/>
<rect x="716" y="432" width="17" height="5" fill="#212121"/>
<rect x="105" y="437" width="9" height="4" fill="#1e1e1e"/>
<rect x="114" y="437" width="8" height="4" fill="#323232"/>
<rect x="122" y="437" width="9" height="4" fill="#505050"/>
<rect x="131" y="437" width="8" height="4" fill="#828282"/>
<rect x="139" y="437" width="9" height="4" fill="#bebebe"/>
<rect x="148" y="437" width="8" height="4" fill="#e1e1e1"/>
<rect x="156" y="437" width="17" height="4" fill="#e6e6e6"/>
<rect x="173" y="437" width="9" height="4" fill="#d7d7d7"/>
<rect x="182" y="437" width="8" height="4" fill="#cdcdcd"/>
<rect x="190" y="437" width="9" height="4" fill="#c6c6c6"/>
<rect x="199" y="437" width="8" height="4" fill="#bcbcbc"/>
<rect x="207" y="437" width="9" height="4" fill="#b4b4b4"/>
<rect x="216" y="437" width="8" height="4" fill="#a5a5a5"/>
<rect x="224" y="437" width="59" height="4" fill="#9b9b9b"/>
<rect x="283" y="437" width="43" height="4" fill="#969696"/>
<rect x="326" y="437" width="34" height="4" fill="#929292"/>
<rect x="360" y="437" width="42" height="4" fill="#8a8a8a"/>
<rect x="402" y="437" width="34" height="4" fill="#7a7a7a"/>
<rect x="436" y="437" width="34" height="4" fill="#707070"/>
<rect x="470" y="437" width="25" height="4" fill="#646464"/>
<rect x="495" y="437" width="26" height="4" fill="#555555"/>
<rect x="521" y="437" width="8" height="4" fill="#4e4e4e"/>
<rect x="529" y="437" width="26" height="4" fill="#434343"/>
<rect x="555" y="437" width="17" height="4" fill="#3c3c3c"/>
<rect x="572" y="437" width="50" height="4" fill="#323232"/>
<rect x="622" y="437" width="9" height="4" fill="#212121"/>
<rect x="716" y="437" width="8" height="4" fill="#212121"/>
<rect x="88" y="441" width="26" height="5" fill="#1e1e1e"/>
<rect x="114" y="441" width="8" height="5" fill="#282828"/>
<rect x="122" y="441" width="9" height="5" fill="#3c3c3c"/>
<rect x="131" y="441" width="8" height="5" fill="#787878"/>
<rect x="139" y="441" width="9" height="5" fill="#aaaaaa"/>
<rect x="148" y="441" width="17" height="5" fill="#b9b9b9"/>
<rect x="165" y="441" width="8" height="5" fill="#b4b4b4"/>
<rect x="173" y="441" width="9" height="5" fill="#afafaf"/>
<rect x="182" y="441" width="17" height="5" fill="#a2a2a2"/>
<rect x="199" y="441" width="8" height="5" fill="#919191"/>
<rect x="207" y="441" width="9" height="5" fill="#828282"/>
<rect x="216" y="441" width="8" height="5" fill="#767676"/>
<rect x="224" y="441" width="17" height="5" fill="#6e6e6e"/>
<rect x="241" y="441" width="76" height="5" fill="#747474"/>
<rect x="317" y="441" width="43" height="5" fill="#707070"/>
<rect x="360" y="441" width="76" height="5" fill="#676767"/>
<rect x="436" y="441" width="25" height="5" fill="#585858"/>
<rect x="461" y="441" width="26" height="5" fill="#4e4e4e"/>
<rect x="487" y="441" width="8" height="5" fill="#464646"/>
<rect x="495" y="441" width="17" height="5" fill="#3c3c3c"/>
<rect x="512" y="441" width="17" height="5" fill="#373737"/>
<rect x="529" y="441" width="9" height="5" fill="#323232"/>
<rect x="538" y="441" width="8" height="5" fill="#2d2d2d"/>
<rect x="546" y="441" width="9" height="5" fill="#3e3e3e"/>
<rect x="555" y="441" width="25" height="5" fill="#2d2d2d"/>
<rect x="580" y="441" width="42" height="5" fill="#212121"/>
<rect x="750" y="441" width="8" height="5" fill="#212121"/>
<rect x="88" y="446" width="26" height="4" fill="#1e1e1e"/>
<rect x="114" y="446" width="8" height="4" fill="#3c3c3c"/>
<rect x="122" y="446" width="9" height="4" fill="#464646"/>
<rect x="131" y="446" width="8" height="4" fill="#696969"/>
<rect x="139" y="446" width="17" height="4" fill="#7d7d7d"/>
<rect x="156" y="446" width="9" height="4" fill="#828282"/>
<rect x="165" y="446" width="8" height="4" fill="#7d7d7d"/>
<rect x="173" y="446" width="9" height="4" fill="#787878"/>
<rect x="182" y="446" width="17" height="4" fill="#707070"/>
<rect x="199" y="446" width="8" height="4" fill="#5f5f5f"/>
<rect x="207" y="446" width="9" height="4" fill="#555555"/>
<rect x="216" y="446" width="8" height="4" fill="#4e4e4e"/>
<rect x="224" y="446" width="17" height="4" fill="#484848"/>
<rect x="241" y="446" width="9" height="4" fill="#3a3a3a"/>
<rect x="250" y="446" width="135" height="4" fill="#484848"/>
<rect x="385" y="446" width="9" height="4" fill="#414141"/>
<rect x="394" y="446" width="8" height="4" fill="#505050"/>
<rect x="402" y="446" width="34" height="4" fill="#4b4b4b"/>
<rect x="436" y="446" width="17" height="4" fill="#444444"/>
<rect x="453" y="446" width="34" height="4" fill="#343434"/>
<rect x="487" y="446" width="25" height="4" fill="#2d2d2d"/>
<rect x="512" y="446" width="51" height="4" fill="#1e1e1e"/>
<rect x="563" y="446" width="9" height="4" fill="#323232"/>
<rect x="572" y="446" width="50" height="4" fill="#212121"/>
<rect x="733" y="446" width="25" height="4" fill="#212121"/>
<rect x="88" y="450" width="17" height="4" fill="#1e1e1e"/>
<rect x="105" y="450" width="9" height="4" fill="#2d2d2d"/>
<rect x="114" y="450" width="8" height="4" fill="#3c3c3c"/>
<rect x="122" y="450" width="9" height="4" fill="#555555"/>
<rect x="131" y="450" width="8" height="4" fill="#646464"/>
<rect x="139" y="450" width="17" height="4" fill="#696969"/>
<rect x="156" y="450" width="9" height="4" fill="#5f5f5f"/>
<rect x="165" y="450" width="34" height="4" fill="#505050"/>
<rect x="199" y="450" width="17" height="4" fill="#3c3c3c"/>
<rect x="216" y="450" width="42" height="4" fill="#343434"/>
<rect x="258" y="450" width="51" height="4" fill="#3a3a3a"/>
<rect x="309" y="450" width="8" height="4" fill="#1e1e1e"/>
<rect x="317" y="450" width="34" height="4" fill="#373737"/>
<rect x="351" y="450" width="26" height="4" fill="#303030"/>
<rect x="377" y="450" width="8" height="4" fill="#343434"/>
<rect x="385" y="450" width="9" height="4" fill="#3e3e3e"/>
<rect x="394" y="450" width="8" height="4" fill="#484848"/>
<rect x="402" y="450" width="34" height="4" fill="#444444"/>
<rect x="436" y="450" width="17" height="4" fill="#3e3e3e"/>
<rect x="453" y="450" width="25" height="4" fill="#2d2d2d"/>
<rect x="478" y="450" width="9" height="4" fill="#212121"/>
<rect x="487" y="450" width="8" height="4" fill="#191919"/>
<rect x="495" y="450" width="9" height="4" fill="#323232"/>
<rect x="504" y="450" width="34" height="4" fill="#191919"/>
<rect x="538" y="450" width="8" height="4" fill="#212121"/>
<rect x="546" y="450" width="26" height="4" fill="#373737"/>
<rect x="572" y="450" width="25" height="4" fill="#212121"/>
<rect x="605" y="450" width="17" height="4" fill="#212121"/>
<rect x="724" y="450" width="9" height="4" fill="#1e1e1e"/>
<rect x="88" y="454" width="9" height="5" fill="#1e1e1e"/>
<rect x="97" y="454" width="17" height="5" fill="#2d2d2d"/>
<rect x="114" y="454" width="8" height="5" fill="#323232"/>
<rect x="122" y="454" width="60" height="5" fill="#414141"/>
<rect x="182" y="454" width="8" height="5" fill="#373737"/>
<rect x="190" y="454" width="26" height="5" fill="#323232"/>
<rect x="216" y="454" width="25" height="5" fill="#282828"/>
<rect x="241" y="454" width="136" height="5" fill="#212121"/>
<rect x="377" y="454" width="8" height="5" fill="#2d2d2d"/>
<rect x="385" y="454" width="17" height="5" fill="#414141"/>
<rect x="402" y="454" width="9" height="5" fill="#3c3c3c"/>
<rect x="411" y="454" width="25" height="5" fill="#393939"/>
<rect x="436" y="454" width="34" height="5" fill="#2d2d2d"/>
<rect x="470" y="454" width="76" height="5" fill="#1e1e1e"/>
<rect x="546" y="454" width="9" height="5" fill="#212121"/>
<rect x="555" y="454" width="8" height="5" fill="#303030"/>
<rect x="563" y="454" width="59" height="5" fill="#212121"/>
<rect x="648" y="454" width="8" height="5" fill="#212121"/>
<rect x="707" y="454" width="9" height="5" fill="#212121"/>
<rect x="733" y="454" width="8" height="5" fill="#212121"/>
<rect x="767" y="454" width="8" height="5" fill="#212121"/>
<rect x="88" y="459" width="9" height="4" fill="#323232"/>
<rect x="97" y="459" width="8" height="4" fill="#303030"/>
<rect x="105" y="459" width="17" height="4" fill="#3f3f3f"/>
<rect x="122" y="459" width="9" height="4" fill="#3c3c3c"/>
<rect x="131" y="459" width="8" height="4" fill="#2d2d2d"/>
<rect x="139" y="459" width="43" height="4" fill="#373737"/>
<rect x="182" y="459" width="59" height="4" fill="#2d2d2d"/>
<rect x="241" y="459" width="136" height="4" fill="#212121"/>
<rect x="377" y="459" width="8" height="4" fill="#2d2d2d"/>
<rect x="385" y="459" width="9" height="4" fill="#373737"/>
<rect x="394" y="459" width="8" height="4" fill="#3c3c3c"/>
<rect x="402" y="459" width="9" height="4" fill="#323232"/>
<rect x="411" y="459" width="25" height="4" fill="#2a2a2a"/>
<rect x="436" y="459" width="51" height="4" fill="#212121"/>
<rect x="529" y="459" width="60" height="4" fill="#212121"/>
<rect x="597" y="459" width="17" height="4" fill="#212121"/>
<rect x="639" y="459" width="17" height="4" fill="#212121"/>
<rect x="758" y="459" width="9" height="4" fill="#212121"/>
<rect x="88" y="463" width="9" height="4" fill="#464646"/>
<rect x="97" y="463" width="8" height="4" fill="#373737"/>
<rect x="105" y="463" width="17" height="4" fill="#464646"/>
<rect x="122" y="463" width="9" height="4" fill="#3c3c3c"/>
<rect x="131" y="463" width="25" height="4" fill="#2d2d2d"/>
<rect x="156" y="463" width="17" height="4" fill="#3c3c3c"/>
<rect x="173" y="463" width="60" height="4" fill="#2d2d2d"/>
<rect x="233" y="463" width="118" height="4" fill="#212121"/>
<rect x="351" y="463" width="17" height="4" fill="#303030"/>
<rect x="368" y="463" width="9" height="4" fill="#212121"/>
<rect x="377" y="463" width="34" height="4" fill="#2d2d2d"/>
<rect x="411" y="463" width="33" height="4" fill="#212121"/>
<rect x="453" y="463" width="17" height="4" fill="#212121"/>
<rect x="487" y="463" width="25" height="4" fill="#212121"/>
<rect x="563" y="463" width="9" height="4" fill="#212121"/>
<rect x="639" y="463" width="17" height="4" fill="#212121"/>
<rect x="750" y="463" width="17" height="4" fill="#212121"/>
<rect x="767" y="463" width="8" height="4" fill="#373737"/>
<rect x="88" y="467" width="9" height="5" fill="#323232"/>
<rect x="97" y="467" width="25" height="5" fill="#3c3c3c"/>
<rect x="122" y="467" width="9" height="5" fill="#464646"/>
<rect x="131" y="467" width="17" height="5" fill="#373737"/>
<rect x="148" y="467" width="51" height="5" fill="#2d2d2d"/>
<rect x="199" y="467" width="127" height="5" fill="#212121"/>
<rect x="326" y="467" width="93" height="5" fill="#1e1e1e"/>
<rect x="478" y="467" width="34" height="5" fill="#212121"/>
<rect x="758" y="467" width="9" height="5" fill="#323232"/>
<rect x="767" y="467" width="8" height="5" fill="#212121"/>
<rect x="88" y="472" width="9" height="4" fill="#414141"/>
<rect x="97" y="472" width="17" height="4" fill="#4b4b4b"/>
<rect x="114" y="472" width="25" height="4" fill="#3c3c3c"/>
<rect x="139" y="472" width="60" height="4" fill="#2d2d2d"/>
<rect x="199" y="472" width="17" height="4" fill="#212121"/>
<rect x="216" y="472" width="8" height="4" fill="#323232"/>
<rect x="224" y="472" width="17" height="4" fill="#212121"/>
<rect x="250" y="472" width="93" height="4" fill="#212121"/>
<rect x="351" y="472" width="68" height="4" fill="#212121"/>
<rect x="478" y="472" width="34" height="4" fill="#212121"/>
<rect x="597" y="472" width="8" height="4" fill="#212121"/>
<rect x="758" y="472" width="9" height="4" fill="#212121"/>
<rect x="88" y="476" width="26" height="5" fill="#414141"/>
<rect x="114" y="476" width="34" height="5" fill="#2d2d2d"/>
<rect x="148" y="476" width="17" height="5" fill="#212121"/>
<rect x="165" y="476" width="17" height="5" fill="#323232"/>
<rect x="182" y="476" width="25" height="5" fill="#212121"/>
<rect x="207" y="476" width="9" height="5" fill="#6e6e6e"/>
<rect x="216" y="476" width="25" height="5" fill="#212121"/>
<rect x="250" y="476" width="59" height="5" fill="#212121"/>
<rect x="317" y="476" width="17" height="5" fill="#212121"/>
<rect x="377" y="476" width="17" height="5" fill="#212121"/>
<rect x="478" y="476" width="34" height="5" fill="#212121"/>
<rect x="580" y="476" width="25" height="5" fill="#212121"/>
<rect x="614" y="476" width="8" height="5" fill="#212121"/>
<rect x="88" y="481" width="26" height="4" fill="#373737"/>
<rect x="114" y="481" width="34" height="4" fill="#282828"/>
<rect x="148" y="481" width="17" height="4" fill="#212121"/>
<rect x="165" y="481" width="17" height="4" fill="#2d2d2d"/>
<rect x="182" y="481" width="25" height="4" fill="#212121"/>
<rect x="207" y="481" width="9" height="4" fill="#323232"/>
<rect x="216" y="481" width="25" height="4" fill="#212121"/>
<rect x="250" y="481" width="59" height="4" fill="#212121"/>
<rect x="317" y="481" width="17" height="4" fill="#212121"/>
<rect x="419" y="481" width="17" height="4" fill="#212121"/>
<rect x="487" y="481" width="8" height="4" fill="#212121"/>
<rect x="580" y="481" width="34" height="4" fill="#212121"/>
<rect x="105" y="485" width="17" height="4" fill="#212121"/>
<rect x="148" y="485" width="8" height="4" fill="#555555"/>
<rect x="156" y="485" width="9" height="4" fill="#c8c8c8"/>
<rect x="165" y="485" width="42" height="4" fill="#212121"/>
<rect x="207" y="485" width="9" height="4" fill="#282828"/>
<rect x="266" y="485" width="17" height="4" fill="#212121"/>
<rect x="292" y="485" width="8" height="4" fill="#212121"/>
<rect x="411" y="485" width="25" height="4" fill="#212121"/>
<rect x="589" y="485" width="25" height="4" fill="#212121"/>
<rect x="156" y="489" width="9" height="5" fill="#6e6e6e"/>
<rect x="411" y="489" width="25" height="5" fill="#212121"/>
<rect x="597" y="489" width="17" height="5" fill="#212121"/>
<rect x="411" y="494" width="8" height="4" fill="#212121"/>
<rect x="419" y="494" width="9" height="4" fill="#323232"/>
<rect x="428" y="494" width="8" height="4" fill="#212121"/>
<rect x="605" y="494" width="9" height="4" fill="#323232"/>
<rect x="419" y="498" width="17" height="4" fill="#212121"/>
<rect x="156" y="502" width="9" height="5" fill="#212121"/>
<rect x="360" y="502" width="8" height="5" fill="#282828"/>
<rect x="512" y="502" width="9" height="5" fill="#212121"/>
<rect x="639" y="502" width="9" height="5" fill="#212121"/>
<rect x="139" y="507" width="43" height="4" fill="#212121"/>
<rect x="199" y="507" width="8" height="4" fill="#646464"/>
<rect x="317" y="507" width="9" height="4" fill="#282828"/>
<rect x="512" y="507" width="26" height="4" fill="#212121"/>
<rect x="639" y="507" width="9" height="4" fill="#212121"/>
<rect x="139" y="511" width="9" height="5" fill="#212121"/>
<rect x="148" y="511" width="25" height="5" fill="#4b4b4b"/>
<rect x="173" y="511" width="9" height="5" fill="#3c3c3c"/>
<rect x="182" y="511" width="17" height="5" fill="#212121"/>
<rect x="199" y="511" width="8" height="5" fill="#373737"/>
<rect x="207" y="511" width="34" height="5" fill="#212121"/>
<rect x="428" y="511" width="16" height="5" fill="#2d2d2d"/>
<rect x="453" y="511" width="8" height="5" fill="#212121"/>
<rect x="521" y="511" width="8" height="5" fill="#212121"/>
<rect x="139" y="516" width="9" height="4" fill="#212121"/>
<rect x="148" y="516" width="25" height="4" fill="#464646"/>
<rect x="173" y="516" width="9" height="4" fill="#373737"/>
<rect x="182" y="516" width="42" height="4" fill="#212121"/>
<rect x="224" y="516" width="9" height="4" fill="#323232"/>
<rect x="233" y="516" width="17" height="4" fill="#212121"/>
<rect x="419" y="516" width="9" height="4" fill="#212121"/>
<rect x="428" y="516" width="8" height="4" fill="#373737"/>
<rect x="436" y="516" width="8" height="4" fill="#414141"/>
<rect x="444" y="516" width="34" height="4" fill="#212121"/>
<rect x="690" y="516" width="9" height="4" fill="#323232"/>
<rect x="105" y="520" width="9" height="4" fill="#373737"/>
<rect x="122" y="520" width="9" height="4" fill="#282828"/>
<rect x="148" y="520" width="25" height="4" fill="#212121"/>
<rect x="199" y="520" width="51" height="4" fill="#212121"/>
<rect x="419" y="520" width="9" height="4" fill="#2d2d2d"/>
<rect x="428" y="520" width="16" height="4" fill="#3c3c3c"/>
<rect x="444" y="520" width="26" height="4" fill="#323232"/>
<rect x="470" y="520" width="51" height="4" fill="#212121"/>
<rect x="538" y="520" width="42" height="4" fill="#212121"/>
<rect x="690" y="520" width="9" height="4" fill="#828282"/>
<rect x="105" y="524" width="17" height="5" fill="#212121"/>
<rect x="216" y="524" width="25" height="5" fill="#212121"/>
<rect x="419" y="524" width="9" height="5" fill="#2d2d2d"/>
<rect x="428" y="524" width="16" height="5" fill="#414141"/>
<rect x="444" y="524" width="9" height="5" fill="#464646"/>
<rect x="453" y="524" width="17" height="5" fill="#3c3c3c"/>
<rect x="470" y="524" width="17" height="5" fill="#2d2d2d"/>
<rect x="487" y="524" width="51" height="5" fill="#212121"/>
<rect x="538" y="524" width="8" height="5" fill="#2d2d2d"/>
<rect x="546" y="524" width="17" height="5" fill="#373737"/>
<rect x="563" y="524" width="9" height="5" fill="#2d2d2d"/>
<rect x="572" y="524" width="42" height="5" fill="#212121"/>
<rect x="88" y="529" width="34" height="4" fill="#212121"/>
<rect x="317" y="529" width="9" height="4" fill="#212121"/>
<rect x="419" y="529" width="9" height="4" fill="#212121"/>
<rect x="428" y="529" width="16" height="4" fill="#373737"/>
<rect x="444" y="529" width="9" height="4" fill="#414141"/>
<rect x="453" y="529" width="17" height="4" fill="#323232"/>
<rect x="470" y="529" width="8" height="4" fill="#2d2d2d"/>
<rect x="478" y="529" width="60" height="4" fill="#212121"/>
<rect x="538" y="529" width="25" height="4" fill="#323232"/>
<rect x="563" y="529" width="9" height="4" fill="#2d2d2d"/>
<rect x="572" y="529" width="50" height="4" fill="#212121"/>
<rect x="87" y="436" width="690" height="1" fill="#000"/>
<rect x="88" y="422" width="688" height="1" fill="#f00"/>
<rect x="88" y="451" width="688" height="1" fill="#f00"/>
<rect x="87" y="334" width="691" height="3" fill="#ce1f27"/>
<rect x="87" y="532" width="691" height="3" fill="#ce1f27"/>
<rect x="87" y="334" width="3" height="201" fill="#ce1f27"/>
<rect x="775" y="334" width="3" height="201" fill="#ce1f27"/>
<rect x="87" y="337" width="3" height="8" fill="#ce1f27"/>
<rect x="87" y="523" width="3" height="9" fill="#ce1f27"/>
<rect x="95" y="337" width="3" height="3" fill="#ce1f27"/>
<rect x="95" y="528" width="3" height="4" fill="#ce1f27"/>
<rect x="104" y="337" width="3" height="3" fill="#ce1f27"/>
<rect x="104" y="528" width="3" height="4" fill="#ce1f27"/>
<rect x="112" y="337" width="3" height="3" fill="#ce1f27"/>
<rect x="112" y="528" width="3" height="4" fill="#ce1f27"/>
<rect x="121" y="337" width="3" height="3" fill="#ce1f27"/>
<rect x="121" y="528" width="3" height="4" fill="#ce1f27"/>
<rect x="129" y="337" width="3" height="3" fill="#ce1f27"/>
<rect x="129" y="528" width="3" height="4" fill="#ce1f27"/>
<rect x="138" y="337" width="3" height="3" fill="#ce1f27"/>
<rect x="138" y="528" width="3" height="4" fill="#ce1f27"/>
<rect x="146" y="337" width="3" height="3" fill="#ce1f27"/>
<rect x="146" y="528" width="3" height="4" fill="#ce1f27"/>
<rect x="155" y="337" width="3" height="3" fill="#ce1f27"/>
<rect x="155" y="528" width="3" height="4" fill="#ce1f27"/>
<rect x="163" y="337" width="3" height="3" fill="#ce1f27"/>
<rect x="163" y="528" width="3" height="4" fill="#ce1f27"/>
<rect x="172" y="337" width="3" height="8" fill="#ce1f27"/>
<rect x="172" y="523" width="3" height="9" fill="#ce1f27"/>
<rect x="180" y="337" width="3" height="3" fill="#ce1f27"/>
<rect x="180" y="528" width="3" height="4" fill="#ce1f27"/>
<rect x="189" y="337" width="3" height="3" fill="#ce1f27"/>
<rect x="189" y="528" width="3" height="4" fill="#ce1f27"/>
<rect x="197" y="337" width="3" height="3" fill="#ce1f27"/>
<rect x="197" y="528" width="3" height="4" fill="#ce1f27"/>
<rect x="206" y="337" width="3" height="3" fill="#ce1f27"/>
<rect x="206" y="528" width="3" height="4" fill="#ce1f27"/>
<rect x="214" y="337" width="3" height="3" fill="#ce1f27"/>
<rect x="214" y="528" width="3" height="4" fill="#ce1f27"/>
<rect x="223" y="337" width="3" height="3" fill="#ce1f27"/>
<rect x="223" y="528" width="3" height="4" fill="#ce1f27"/>
<rect x="231" y="337" width="3" height="3" fill="#ce1f27"/>
<rect x="231" y="528" width="3" height="4" fill="#ce1f27"/>
<rect x="240" y="337" width="3" height="3" fill="#ce1f27"/>
<rect x="240" y="528" width="3" height="4" fill="#ce1f27"/>
<rect x="248" y="337" width="3" height="3" fill="#ce1f27"/>
<rect x="248" y="528" width="3" height="4" fill="#ce1f27"/>
<rect x="257" y="337" width="3" height="8" fill="#ce1f27"/>
<rect x="257" y="523" width="3" height="9" fill="#ce1f27"/>
<rect x="265" y="337" width="3" height="3" fill="#ce1f27"/>
<rect x="265" y="528" width="3" height="4" fill="#ce1f27"/>
<rect x="274" y="337" width="3" height="3" fill="#ce1f27"/>
<rect x="274" y="528" width="3" height="4" fill="#ce1f27"/>
<rect x="282" y="337" width="3" height="3" fill="#ce1f27"/>
<rect x="282" y="528" width="3" height="4" fill="#ce1f27"/>
<rect x="291" y="337" width="3" height="3" fill="#ce1f27"/>
<rect x="291" y="528" width="3" height="4" fill="#ce1f27"/>
<rect x="299" y="337" width="3" height="3" fill="#ce1f27"/>
<rect x="299" y="528" width="3" height="4" fill="#ce1f27"/>
<rect x="308" y="337" width="3" height="3" fill="#ce1f27"/>
<rect x="308" y="528" width="3" height="4" fill="#ce1f27"/>
<rect x="316" y="337" width="3" height="3" fill="#ce1f27"/>
<rect x="316" y="528" width="3" height="4" fill="#ce1f27"/>
<rect x="325" y="337" width="3" height="3" fill="#ce1f27"/>
<rect x="325" y="528" width="3" height="4" fill="#ce1f27"/>
<rect x="333" y="337" width="3" height="3" fill="#ce1f27"/>
<rect x="333" y="528" width="3" height="4" fill="#ce1f27"/>
<rect x="342" y="337" width="3" height="8" fill="#ce1f27"/>
<rect x="342" y="523" width="3" height="9" fill="#ce1f27"/>
<rect x="350" y="337" width="3" height="3" fill="#ce1f27"/>
<rect x="350" y="528" width="3" height="4" fill="#ce1f27"/>
<rect x="359" y="337" width="3" height="3" fill="#ce1f27"/>
<rect x="359" y="528" width="3" height="4" fill="#ce1f27"/>
<rect x="367" y="337" width="3" height="3" fill="#ce1f27"/>
<rect x="367" y="528" width="3" height="4" fill="#ce1f27"/>
<rect x="376" y="337" width="3" height="3" fill="#ce1f27"/>
<rect x="376" y="528" width="3" height="4" fill="#ce1f27"/>
<rect x="384" y="337" width="3" height="3" fill="#ce1f27"/>
<rect x="384" y="528" width="3" height="4" fill="#ce1f27"/>
<rect x="393" y="337" width="3" height="3" fill="#ce1f27"/>
<rect x="393" y="528" width="3" height="4" fill="#ce1f27"/>
<rect x="401" y="337" width="3" height="3" fill="#ce1f27"/>
<rect x="401" y="528" width="3" height="4" fill="#ce1f27"/>
<rect x="410" y="337" width="3" height="3" fill="#ce1f27"/>
<rect x="410" y="528" width="3" height="4" fill="#ce1f27"/>
<rect x="418" y="337" width="3" height="3" fill="#ce1f27"/>
<rect x="418" y="528" width="3" height="4" fill="#ce1f27"/>
<rect x="427" y="337" width="3" height="8" fill="#ce1f27"/>
<rect x="427" y="523" width="3" height="9" fill="#ce1f27"/>
<rect x="435" y="337" width="3" height="3" fill="#ce1f27"/>
<rect x="435" y="528" width="3" height="4" fill="#ce1f27"/>
<rect x="444" y="337" width="3" height="3" fill="#ce1f27"/>
<rect x="444" y="528" width="3" height="4" fill="#ce1f27"/>
<rect x="452" y="337" width="3" height="3" fill="#ce1f27"/>
<rect x="452" y="528" width="3" height="4" fill="#ce1f27"/>
<rect x="461" y="337" width="3" height="3" fill="#ce1f27"/>
<rect x="461" y="528" width="3" height="4" fill="#ce1f27"/>
<rect x="469" y="337" width="3" height="3" fill="#ce1f27"/>
<rect x="469" y="528" width="3" height="4" fill="#ce1f27"/>
<rect x="478" y="337" width="3" height="3" fill="#ce1f27"/>
<rect x="478" y="528" width="3" height="4" fill="#ce1f27"/>
<rect x="486" y="337" width="3" height="3" fill="#ce1f27"/>
<rect x="486" y="528" width="3" height="4" fill="#ce1f27"/>
<rect x="495" y="337" width="3" height="3" fill="#ce1f27"/>
<rect x="495" y="528" width="3" height="4" fill="#ce1f27"/>
<rect x="503" y="337" width="3" height="3" fill="#ce1f27"/>
<rect x="503" y="528" width="3" height="4" fill="#ce1f27"/>
<rect x="512" y="337" width="3" height="8" fill="#ce1f27"/>
<rect x="512" y="523" width="3" height="9" fill="#ce1f27"/>
<rect x="520" y="337" width="3" height="3" fill="#ce1f27"/>
<rect x="520" y="528" width="3" height="4" fill="#ce1f27"/>
<rect x="529" y="337" width="3" height="3" fill="#ce1f27"/>
<rect x="529" y="528" width="3" height="4" fill="#ce1f27"/>
<rect x="537" y="337" width="3" height="3" fill="#ce1f27"/>
<rect x="537" y="528" width="3" height="4" fill="#ce1f27"/>
<rect x="546" y="337" width="3" height="3" fill="#ce1f27"/>
<rect x="546" y="528" width="3" height="4" fill="#ce1f27"/>
<rect x="554" y="337" width="3" height="3" fill="#ce1f27"/>
<rect x="554" y="528" width="3" height="4" fill="#ce1f27"/>
<rect x="563" y="337" width="3" height="3" fill="#ce1f27"/>
<rect x="563" y="528" width="3" height="4" fill="#ce1f27"/>
<rect x="571" y="337" width="3" height="3" fill="#ce1f27"/>
<rect x="571" y="528" width="3" height="4" fill="#ce1f27"/>
<rect x="580" y="337" width="3" height="3" fill="#ce1f27"/>
<rect x="580" y="528" width="3" height="4" fill="#ce1f27"/>
<rect x="588" y="337" width="3" height="3" fill="#ce1f27"/>
<rect x="588" y="528" width="3" height="4" fill="#ce1f27"/>
<rect x="597" y="337" width="3" height="8" fill="#ce1f27"/>
<rect x="597" y="523" width="3" height="9" fill="#ce1f27"/>
<rect x="605" y="337" width="3" height="3" fill="#ce1f27"/>
<rect x="605" y="528" width="3" height="4" fill="#ce1f27"/>
<rect x="614" y="337" width="3" height="3" fill="#ce1f27"/>
<rect x="614" y="528" width="3" height="4" fill="#ce1f27"/>
<rect x="622" y="337" width="3" height="3" fill="#ce1f27"/>
<rect x="622" y="528" width="3" height="4" fill="#ce1f27"/>
<rect x="631" y="337" width="3" height="3" fill="#ce1f27"/>
<rect x="631" y="528" width="3" height="4" fill="#ce1f27"/>
<rect x="639" y="337" width="3" height="3" fill="#ce1f27"/>
<rect x="639" y="528" width="3" height="4" fill="#ce1f27"/>
<rect x="648" y="337" width="3" height="3" fill="#ce1f27"/>
<rect x="648" y="528" width="3" height="4" fill="#ce1f27"/>
<rect x="656" y="337" width="3" height="3" fill="#ce1f27"/>
<rect x="656" y="528" width="3" height="4" fill="#ce1f27"/>
<rect x="665" y="337" width="3" height="3" fill="#ce1f27"/>
<rect x="665" y="528" width="3" height="4" fill="#ce1f27"/>
<rect x="673" y="337" width="3" height="3" fill="#ce1f27"/>
<rect x="673" y="528" width="3" height="4" fill="#ce1f27"/>
<rect x="682" y="337" width="3" height="8" fill="#ce1f27"/>
<rect x="682" y="523" width="3" height="9" fill="#ce1f27"/>
<rect x="690" y="337" width="3" height="3" fill="#ce1f27"/>
<rect x="690" y="528" width="3" height="4" fill="#ce1f27"/>
<rect x="699" y="337" width="3" height="3" fill="#ce1f27"/>
<rect x="699" y="528" width="3" height="4" fill="#ce1f27"/>
<rect x="707" y="337" width="3" height="3" fill="#ce1f27"/>
<rect x="707" y="528" width="3" height="4" fill="#ce1f27"/>
<rect x="716" y="337" width="3" height="3" fill="#ce1f27"/>
<rect x="716" y="528" width="3" height="4" fill="#ce1f27"/>
<rect x="724" y="337" width="3" height="3" fill="#ce1f27"/>
<rect x="724" y="528" width="3" height="4" fill="#ce1f27"/>
<rect x="733" y="337" width="3" height="3" fill="#ce1f27"/>
<rect x="733" y="528" width="3" height="4" fill="#ce1f27"/>
<rect x="741" y="337" width="3" height="3" fill="#ce1f27"/>
<rect x="741" y="528" width="3" height="4" fill="#ce1f27"/>
<rect x="750" y="337" width="3" height="3" fill="#ce1f27"/>
<rect x="750" y="528" width="3" height="4" fill="#ce1f27"/>
<rect x="758" y="337" width="3" height="3" fill="#ce1f27"/>
<rect x="758" y="528" width="3" height="4" fill="#ce1f27"/>
<rect x="767" y="337" width="3" height="8" fill="#ce1f27"/>
<rect x="767" y="523" width="3" height="9" fill="#ce1f27"/>
<rect x="775" y="337" width="3" height="3" fill="#ce1f27"/>
<rect x="775" y="528" width="3" height="4" fill="#ce1f27"/>
<rect x="90" y="530" width="5" height="3" fill="#ce1f27"/>
<rect x="90" y="484" width="5" height="3" fill="#ce1f27"/>
<rect x="90" y="435" width="5" height="3" fill="#ce1f27"/>
<rect x="90" y="387" width="5" height="3" fill="#ce1f27"/>
<rect x="90" y="339" width="5" height="3" fill="#ce1f27"/>
<rect x="87" y="436" width="690" height="1" fill="#000"/>
</g>
<polygon fill="none" stroke="#1e90ff" stroke-width="1.25" stroke-linejoin="miter" stroke-miterlimit="10" points="429.9,399.8 431.6,404.8 436.9,404.9 432.7,408.1 434.2,413.2 429.9,410.2 425.6,413.2 427.1,408.1 422.9,404.9 428.2,404.8"/>
<polygon fill="none" stroke="#1e90ff" stroke-width="1.25" stroke-linejoin="miter" stroke-miterlimit="10" points="402.5,451.6 404.2,456.6 409.5,456.7 405.3,459.9 406.8,465.0 402.5,462.0 398.2,465.0 399.7,459.9 395.5,456.7 400.8,456.6"/>
<text x="88.5" y="326" font-size="19.5" fill="#ce1f27" text-anchor="middle" textLength="43" lengthAdjust="spacingAndGlyphs">1.48</text>
<text x="173.438" y="326" font-size="19.5" fill="#ce1f27" text-anchor="middle" textLength="43" lengthAdjust="spacingAndGlyphs">2.60</text>
<text x="258.377" y="326" font-size="19.5" fill="#ce1f27" text-anchor="middle" textLength="43" lengthAdjust="spacingAndGlyphs">3.36</text>
<text x="343.315" y="326" font-size="19.5" fill="#ce1f27" text-anchor="middle" textLength="43" lengthAdjust="spacingAndGlyphs">3.89</text>
<text x="428.253" y="326" font-size="19.5" fill="#ce1f27" text-anchor="middle" textLength="43" lengthAdjust="spacingAndGlyphs">4.33</text>
<text x="513.191" y="326" font-size="19.5" fill="#ce1f27" text-anchor="middle" textLength="43" lengthAdjust="spacingAndGlyphs">4.70</text>
<text x="598.13" y="326" font-size="19.5" fill="#ce1f27" text-anchor="middle" textLength="43" lengthAdjust="spacingAndGlyphs">5.04</text>
<text x="683.068" y="326" font-size="19.5" fill="#ce1f27" text-anchor="middle" textLength="43" lengthAdjust="spacingAndGlyphs">5.35</text>
<text x="768.006" y="326" font-size="19.5" fill="#ce1f27" text-anchor="middle" textLength="43" lengthAdjust="spacingAndGlyphs">5.55</text>
<text x="88.5" y="563.1" font-size="19.5" fill="#ce1f27" text-anchor="middle" textLength="11" lengthAdjust="spacingAndGlyphs">0</text>
<text x="173.438" y="563.1" font-size="19.5" fill="#ce1f27" text-anchor="middle" textLength="24" lengthAdjust="spacingAndGlyphs">10</text>
<text x="258.377" y="563.1" font-size="19.5" fill="#ce1f27" text-anchor="middle" textLength="24" lengthAdjust="spacingAndGlyphs">20</text>
<text x="343.315" y="563.1" font-size="19.5" fill="#ce1f27" text-anchor="middle" textLength="24" lengthAdjust="spacingAndGlyphs">30</text>
<text x="428.253" y="563.1" font-size="19.5" fill="#ce1f27" text-anchor="middle" textLength="24" lengthAdjust="spacingAndGlyphs">40</text>
<text x="513.191" y="563.1" font-size="19.5" fill="#ce1f27" text-anchor="middle" textLength="24" lengthAdjust="spacingAndGlyphs">50</text>
<text x="598.13" y="563.1" font-size="19.5" fill="#ce1f27" text-anchor="middle" textLength="24" lengthAdjust="spacingAndGlyphs">60</text>
<text x="683.068" y="563.1" font-size="19.5" fill="#ce1f27" text-anchor="middle" textLength="24" lengthAdjust="spacingAndGlyphs">70</text>
<text x="768.006" y="563.1" font-size="19.5" fill="#ce1f27" text-anchor="middle" textLength="24" lengthAdjust="spacingAndGlyphs">80</text>
<text x="81.3" y="350" font-size="19.5" fill="#ce1f27" text-anchor="end" textLength="23.5" lengthAdjust="spacingAndGlyphs">20</text>
<text x="81.3" y="396.4" font-size="19.5" fill="#ce1f27" text-anchor="end" textLength="23.5" lengthAdjust="spacingAndGlyphs">10</text>
<text x="81.3" y="444.6" font-size="19.5" fill="#ce1f27" text-anchor="end" textLength="10.5" lengthAdjust="spacingAndGlyphs">0</text>
<text x="39.3" y="493.4" font-size="19.5" fill="#ce1f27"><tspan textLength="17.5" lengthAdjust="spacingAndGlyphs" dy="-1.9">-</tspan><tspan x="56.8" dy="1.9" textLength="24" lengthAdjust="spacingAndGlyphs">10</tspan></text>
<text x="39.3" y="533.6" font-size="19.5" fill="#ce1f27"><tspan textLength="17.5" lengthAdjust="spacingAndGlyphs" dy="-1.9">-</tspan><tspan x="56.8" dy="1.9" textLength="24" lengthAdjust="spacingAndGlyphs">20</tspan></text>
<text x="431.6" y="589.2" font-size="19.5" fill="#ce1f27" text-anchor="middle" textLength="45.5" lengthAdjust="spacingAndGlyphs">Pixel</text>
<text transform="translate(23.6 526.8) rotate(-90)" font-size="19.5" fill="#ce1f27"><tspan x="-1" textLength="59.2" lengthAdjust="spacingAndGlyphs">Space</tspan> <tspan x="67.8" textLength="44.8" lengthAdjust="spacingAndGlyphs">Shift</tspan> <tspan x="124.8" textLength="59" lengthAdjust="spacingAndGlyphs">[pixel]</tspan></text>
<g stroke="#4d4d4d" stroke-width="1.35" stroke-linecap="butt">
<line x1="789" y1="599" x2="799.2" y2="588.8"/>
<line x1="793.2" y1="599" x2="799.2" y2="593"/>
<line x1="797.2" y1="599" x2="799.2" y2="597"/>
</g>
</svg></body></html>
